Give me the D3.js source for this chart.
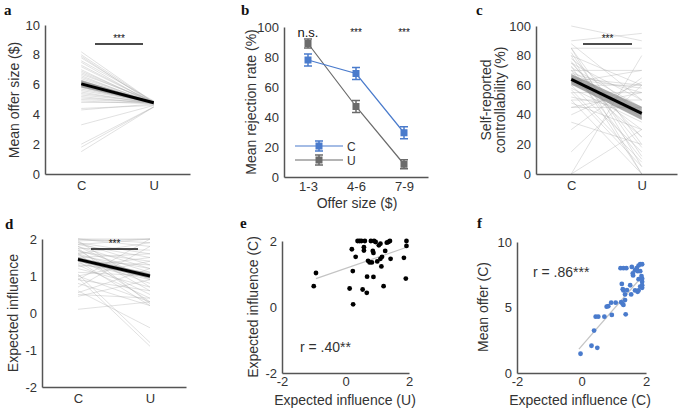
<!DOCTYPE html>
<html>
<head>
<meta charset="utf-8">
<script src="https://cdn.jsdelivr.net/npm/d3@7"></script>
<style>
  body { margin: 0; background: #fff; }
  svg text { font-family: "Liberation Sans", Arial, sans-serif; fill: #333; }
</style>
</head>
<body>
<svg width="679" height="414"></svg>
<script>
// ---- data ----
var conds = ["C", "U"];

// a: mean offer size per participant ($)
var aC = [8.2, 8.0, 7.9, 7.8, 7.6, 7.5, 7.3, 7.2, 7.0, 6.9, 6.8, 6.7, 6.6, 6.5, 6.4, 6.3, 6.2, 6.2, 6.1, 6.0,
          6.0, 5.9, 5.8, 5.7, 5.6, 5.5, 5.4, 5.3, 5.2, 5.1, 5.0, 4.9, 4.8, 4.4, 4.3, 3.3, 2.0, 1.8, 1.5];
var aU = [4.8, 4.8, 4.7, 4.8, 4.9, 4.7, 4.8, 4.8, 4.7, 4.8, 4.8, 4.9, 4.7, 4.8, 4.8, 4.7, 4.8, 4.8, 4.8, 4.7,
          4.8, 4.8, 4.7, 4.8, 4.8, 4.7, 4.8, 4.8, 4.7, 4.8, 4.8, 4.7, 4.8, 4.6, 4.7, 4.6, 4.5, 4.5, 4.5];
var aMean = [6.05, 4.78];
var aCI = [0.25, 0.05];

// b: mean rejection rate (%) by offer size
var offerBins = ["1-3", "4-6", "7-9"];
var bC = [78, 69, 29.5];
var bCerr = [4, 4, 4];
var bU = [89, 47, 8.5];
var bUerr = [3, 4, 3];
var bSig = ["n.s.", "***", "***"];

// c: self-reported controllability (%)
var cC = [100, 90, 85, 85, 85, 80, 80, 75, 75, 72, 70, 70, 68, 65, 65, 62, 60, 60, 58, 55, 55, 50,
          50, 48, 45, 40, 35, 30, 15, 0, 0, 78, 82, 73, 66, 88, 70, 64, 57, 52, 76, 62, 45];
var cU = [90, 95, 85, 20, 5, 60, 0, 50, 25, 45, 70, 10, 55, 30, 60, 40, 15, 60, 35, 55, 5, 50,
          0, 30, 45, 62, 20, 65, 60, 80, 30, 40, 12, 0, 25, 50, 38, 58, 8, 42, 18, 70, 55];
var cMean = [64, 41];
var cCI = [3.5, 4.5];

// d: expected influence
var dC = [2, 2, 2, 1.95, 1.9, 1.9, 1.85, 1.8, 1.8, 1.75, 1.7, 1.7, 1.65, 1.6, 1.6, 1.55, 1.5, 1.5, 1.45, 1.4,
          1.4, 1.35, 1.3, 1.3, 1.25, 1.2, 1.1, 1.05, 1.0, 1.0, 0.95, 0.9, 0.9, 0.8, 0.7, 0.6, 0.55, 0.5, 0.45,
          0.1, 1.95, 1.85, 1.75, 1.6];
var dU = [2, 1.9, 1.8, 2, 1.6, 1.3, 1.5, 1.2, 0.9, 1.7, 1.1, 0.6, 1.4, 1.0, 0.3, 1.2, 0.8, 1.6, 0.5, 1.3,
          0.2, 0.9, 1.1, 0.4, 1.5, 0.7, 1.0, -0.8, 0.3, 1.4, -0.9, 0.6, 2, 0.2, 1.8, -0.4, 1.2, 0.4, 0.9,
          0.3, 0.7, 2, 0.25, 1.9];
var dMean = [1.45, 1.0];
var dCI = [0.06, 0.07];

// e: expected influence U (x) vs C (y)
var eX = [-1.0, -0.93, 0.13, 0.24, 0.23, 0.2, 0.32, 0.38, 0.44, 0.5, 0.58, 0.58, 0.61, 0.54, 0.67, 0.68,
          0.71, 0.76, 0.83, 0.8, 0.86, 0.88, 0.9, 0.95, 0.88, 1.0, 1.05, 1.1, 1.1, 1.15, 1.13, 1.2, 1.25,
          1.3, 1.35, 1.4, 1.42, 1.84, 1.92, 1.92, 1.9];
var eY = [0.63, 1.03, 0.56, 0.08, 1.09, 1.75, 1.52, 2.0, 2.0, 2.0, 1.71, 1.81, 2.0, 0.53, 0.43, 0.92,
          1.4, 1.35, 1.35, 2.0, 1.7, 1.64, 2.0, 1.97, 0.91, 1.38, 1.87, 1.92, 1.46, 1.52, 1.23, 0.63, 1.7,
          1.95, 1.97, 2.0, 1.46, 1.49, 2.0, 1.85, 0.86];
var eFitX = [-0.93, 1.93];
var eFitY = [0.86, 1.81];

// f: expected influence C (x) vs mean offer C (y)
var fX = [-0.03, 0.31, 0.49, 0.39, 0.44, 0.52, 0.71, 0.94, 0.78, 0.83, 0.92, 1.06, 1.23, 1.27, 1.3, 1.35,
          1.37, 1.25, 1.28, 1.3, 1.35, 1.41, 1.54, 1.51, 1.21, 1.3, 1.39, 1.56, 1.59, 1.6, 1.66, 1.71, 1.77,
          1.82, 1.88, 1.74, 1.82, 1.66, 1.74, 1.77, 1.82, 1.88, 1.88, 1.86, 1.77, 1.88, 1.88];
var fY = [1.47, 2.08, 1.92, 3.24, 4.3, 4.3, 4.3, 4.43, 5.06, 5.1, 5.37, 5.37, 5.4, 5.3, 5.2, 5.57,
          4.48, 6.8, 6.4, 6.3, 6.0, 6.33, 6.0, 6.7, 8.0, 8.0, 8.0, 8.1, 7.6, 7.45, 7.85, 8.0, 8.2,
          8.3, 8.3, 7.77, 7.77, 6.3, 6.2, 6.3, 6.6, 6.96, 7.2, 7.4, 7.16, 6.7, 6.5];
var fFitX = [-0.08, 1.85];
var fFitY = [1.82, 7.29];

// ---- drawing ----
var svg = d3.select("svg");
var axisCol = "#555";
var blue = "#4a7bcc", grey = "#6b6b6b";
var fmt = function(d) { return String(d); };

function styleAxis(g) {
  g.select(".domain").attr("stroke", axisCol).attr("stroke-width", 1.5);
  g.selectAll("text").attr("font-size", 13).style("fill", "#333");
}

function axes(x, y, yTicks, xTicks, xPad) {
  var gy = svg.append("g").attr("transform", "translate(" + x.range()[0] + ",0)")
    .call(d3.axisLeft(y).tickValues(yTicks).tickSize(0).tickPadding(5).tickFormat(fmt));
  styleAxis(gy);
  var ax = d3.axisBottom(x).tickSize(0).tickPadding(xPad || 7);
  if (xTicks) ax.tickValues(xTicks).tickFormat(fmt);
  var gx = svg.append("g").attr("transform", "translate(0," + y.range()[0] + ")").call(ax);
  styleAxis(gx);
}

function label(txt, x, y, rotate, size) {
  var t = svg.append("text").attr("font-size", size || 14).attr("text-anchor", "middle").text(txt);
  if (rotate) t.attr("transform", "translate(" + x + "," + y + ") rotate(-90)");
  else t.attr("x", x).attr("y", y);
  return t;
}

function letter(txt, x, y) {
  svg.append("text").attr("x", x).attr("y", y).text(txt)
    .style("font-family", '"Liberation Serif", "Times New Roman", serif')
    .attr("font-weight", "bold").attr("font-size", 15).style("fill", "#111");
}

function sigBar(x1, x2, y) {
  svg.append("line").attr("x1", x1).attr("x2", x2).attr("y1", y).attr("y2", y)
    .attr("stroke", "#111").attr("stroke-width", 1.5);
  svg.append("text").attr("x", (x1 + x2) / 2).attr("y", y - 2).attr("text-anchor", "middle")
    .attr("font-size", 10).style("fill", "#111").text("***");
}

function pairedPanel(x, y, cVals, uVals, mean, ci) {
  var g = svg.append("g");
  g.selectAll("line.ind").data(cVals).enter().append("line")
    .attr("x1", x("C")).attr("x2", x("U"))
    .attr("y1", function(d) { return y(d); })
    .attr("y2", function(d, i) { return y(uVals[i]); })
    .attr("stroke", "#aaa").attr("stroke-opacity", 0.35).attr("stroke-width", 1);
  var pts = conds.map(function(c, i) { return { c: c, m: mean[i], e: ci[i] }; });
  g.append("path").datum(pts)
    .attr("d", d3.area().x(function(d) { return x(d.c); })
      .y0(function(d) { return y(d.m - d.e); }).y1(function(d) { return y(d.m + d.e); }))
    .attr("fill", "#888").attr("fill-opacity", 0.7);
  g.append("path").datum(pts)
    .attr("d", d3.line().x(function(d) { return x(d.c); }).y(function(d) { return y(d.m); }))
    .attr("stroke", "#000").attr("stroke-width", 3).attr("fill", "none");
}

// panel a
(function() {
  var x = d3.scalePoint().domain(conds).range([45, 190]).padding(0.5);
  var y = d3.scaleLinear().domain([0, 10]).range([174, 25]);
  pairedPanel(x, y, aC, aU, aMean, aCI);
  axes(x, y, [0, 2, 4, 6, 8, 10]);
  sigBar(95, 143, 44);
  label("Mean offer size ($)", 19, 100, true);
  letter("a", 4, 15);
})();

// panel b
(function() {
  var x = d3.scalePoint().domain(offerBins).range([284, 428]).padding(0.5);
  var y = d3.scaleLinear().domain([0, 100]).range([177, 27]);
  axes(x, y, [0, 20, 40, 60, 80, 100], null, 5);
  var series = [
    { vals: bU, err: bUerr, col: grey, name: "U", ly: 160 },
    { vals: bC, err: bCerr, col: blue, name: "C", ly: 146 }
  ];
  var line = d3.line().x(function(d, i) { return x(offerBins[i]); }).y(function(d) { return y(d); });
  series.forEach(function(s) {
    var g = svg.append("g");
    g.append("path").datum(s.vals).attr("d", line).attr("stroke", s.col)
      .attr("stroke-width", 1.2).attr("fill", "none");
    s.vals.forEach(function(v, i) {
      var cx = x(offerBins[i]);
      g.append("path").attr("d", "M" + (cx - 4) + "," + y(v + s.err[i]) + "H" + (cx + 4) +
          "M" + cx + "," + y(v + s.err[i]) + "V" + y(v - s.err[i]) +
          "M" + (cx - 4) + "," + y(v - s.err[i]) + "H" + (cx + 4))
        .attr("stroke", s.col).attr("stroke-width", 1.5).attr("fill", "none");
      g.append("rect").attr("x", cx - 3.5).attr("y", y(v) - 3.5).attr("width", 7).attr("height", 7)
        .attr("fill", s.col);
    });
    // legend
    g.append("line").attr("x1", 295).attr("x2", 343).attr("y1", s.ly).attr("y2", s.ly)
      .attr("stroke", s.col).attr("stroke-width", 1.2);
    g.append("path").attr("d", "M315," + (s.ly - 5) + "H323M319," + (s.ly - 5) + "V" + (s.ly + 5) +
        "M315," + (s.ly + 5) + "H323")
      .attr("stroke", s.col).attr("stroke-width", 1.5).attr("fill", "none");
    g.append("rect").attr("x", 315.5).attr("y", s.ly - 3.5).attr("width", 7).attr("height", 7)
      .attr("fill", s.col);
    g.append("text").attr("x", 347).attr("y", s.ly + 4.5).attr("font-size", 12).text(s.name);
  });
  svg.append("g").selectAll("text").data(bSig).enter().append("text")
    .attr("x", function(d, i) { return x(offerBins[i]); })
    .attr("y", function(d) { return d === "n.s." ? 37 : 36; })
    .attr("text-anchor", "middle")
    .attr("font-size", function(d) { return d === "n.s." ? 13 : 10; })
    .style("fill", "#111").text(function(d) { return d; });
  label("Mean rejection rate (%)", 256, 102, true);
  label("Offer size ($)", 357, 208);
  letter("b", 241, 15);
})();

// panel c
(function() {
  var x = d3.scalePoint().domain(conds).range([536, 677]).padding(0.5);
  var y = d3.scaleLinear().domain([0, 100]).range([174, 26]);
  pairedPanel(x, y, cC, cU, cMean, cCI);
  axes(x, y, [0, 20, 40, 60, 80, 100]);
  sigBar(583, 632, 44);
  label("Self-reported", 491, 100, true);
  label("controllability (%)", 505, 100, true);
  letter("c", 476, 15);
})();

// panel d
(function() {
  var x = d3.scalePoint().domain(conds).range([42, 186]).padding(0.5);
  var y = d3.scaleLinear().domain([-2, 2]).range([387, 239]);
  pairedPanel(x, y, dC, dU, dMean, dCI);
  axes(x, y, [-2, -1, 0, 1, 2]);
  sigBar(91, 138, 249);
  label("Expected influence", 18, 313, true);
  letter("d", 5, 229);
})();

// panel e
(function() {
  var x = d3.scaleLinear().domain([-2, 2]).range([282, 409]);
  var y = d3.scaleLinear().domain([-2, 2]).range([373, 241]);
  axes(x, y, [-2, 0, 2], [-2, 0, 2], 4);
  svg.append("line").attr("x1", x(eFitX[0])).attr("x2", x(eFitX[1]))
    .attr("y1", y(eFitY[0])).attr("y2", y(eFitY[1])).attr("stroke", "#c4c4c4").attr("stroke-width", 1.2);
  svg.append("g").selectAll("circle").data(eX).enter().append("circle")
    .attr("cx", function(d) { return x(d); })
    .attr("cy", function(d, i) { return y(eY[i]); })
    .attr("r", 2.4).attr("fill", "#000");
  svg.append("text").attr("x", 300).attr("y", 352).attr("font-size", 14).text("r = .40**");
  label("Expected influence (C)", 258, 307, true);
  label("Expected influence (U)", 345, 405);
  letter("e", 240, 228);
})();

// panel f
(function() {
  var x = d3.scaleLinear().domain([-2, 2]).range([517, 646]);
  var y = d3.scaleLinear().domain([0, 10]).range([373, 242]);
  axes(x, y, [0, 5, 10], [-2, 0, 2], 4);
  svg.append("line").attr("x1", x(fFitX[0])).attr("x2", x(fFitX[1]))
    .attr("y1", y(fFitY[0])).attr("y2", y(fFitY[1])).attr("stroke", "#c4c4c4").attr("stroke-width", 1.2);
  svg.append("g").selectAll("circle").data(fX).enter().append("circle")
    .attr("cx", function(d) { return x(d); })
    .attr("cy", function(d, i) { return y(fY[i]); })
    .attr("r", 2.4).attr("fill", blue);
  svg.append("text").attr("x", 533).attr("y", 277).attr("font-size", 14).text("r = .86***");
  label("Mean offer (C)", 488, 307, true);
  label("Expected influence (C)", 580, 405);
  letter("f", 477, 228);
})();
</script>
</body>
</html>
